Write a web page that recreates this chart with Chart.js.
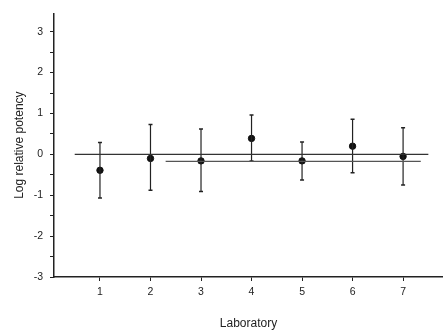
<!DOCTYPE html>
<html>
<head>
<meta charset="utf-8">
<script src="https://cdn.jsdelivr.net/npm/chart.js@4/dist/chart.umd.min.js"></script>
<style>
  html, body { margin: 0; padding: 0; background: #fff; }
  #wrap { width: 443px; height: 333px; }
</style>
</head>
<body>
<div id="wrap"><canvas id="chart"></canvas></div>
<script>
// Datos
const laboratorios = [1, 2, 3, 4, 5, 6, 7];
const potencia = [-0.39, -0.10, -0.16, 0.39, -0.16, 0.20, -0.05];
const limiteSup = [0.29, 0.73, 0.62, 0.96, 0.30, 0.86, 0.65];
const limiteInf = [-1.07, -0.88, -0.91, -0.16, -0.63, -0.45, -0.75];
const lineaCero = [{ x: 0.5, y: 0 }, { x: 7.5, y: 0 }];
const lineaMedia = [{ x: 2.3, y: -0.17 }, { x: 7.35, y: -0.17 }];
const ticksY = [-3, -2, -1, 0, 1, 2, 3];

const negro = '#222';

// Barras de error: una serie por laboratorio
const barras = laboratorios.map((lab, i) => ({
    type: 'line',
    data: [{ x: lab, y: limiteInf[i] }, { x: lab, y: limiteSup[i] }],
    borderColor: negro,
    borderWidth: 1.2,
    pointStyle: 'line',
    pointRadius: 2,
    pointBorderWidth: 1.5,
    pointBorderColor: negro,
    showLine: true,
    fill: false
}));

new Chart(document.getElementById('chart'), {
    type: 'scatter',
    data: {
        datasets: [
            {
                type: 'line',
                data: lineaCero,
                borderColor: '#333',
                borderWidth: 1.2,
                pointRadius: 0,
                showLine: true
            },
            {
                type: 'line',
                data: lineaMedia,
                borderColor: '#555',
                borderWidth: 1.2,
                pointRadius: 0,
                showLine: true
            },
            ...barras,
            {
                data: laboratorios.map((lab, i) => ({ x: lab, y: potencia[i] })),
                backgroundColor: '#111',
                borderColor: '#111',
                pointRadius: 3.2
            }
        ]
    },
    options: {
        responsive: true,
        maintainAspectRatio: false,
        animation: false,
        layout: { autoPadding: false, padding: { left: 0, right: 0, top: 13, bottom: 0 } },
        plugins: { legend: { display: false }, tooltip: { enabled: false } },
        scales: {
            x: {
                type: 'linear',
                min: 0.09,
                max: 7.79,
                afterBuildTicks: s => { s.ticks = laboratorios.map(v => ({ value: v })); },
                afterFit: s => { s.height = 56; },
                grid: { drawOnChartArea: false, tickLength: 4, color: negro, lineWidth: 1 },
                border: { color: negro, width: 1.5 },
                ticks: { color: '#222', font: { family: 'Liberation Sans', size: 10.5 }, padding: 5, maxRotation: 0 },
                title: {
                    display: true,
                    text: 'Laboratory',
                    color: '#222',
                    font: { family: 'Liberation Sans', size: 12 },
                    padding: { top: 10, bottom: 2 }
                }
            },
            y: {
                min: -3,
                max: 3.45,
                afterBuildTicks: s => {
                    const t = [];
                    for (let v = -3; v <= 3; v += 0.5) t.push({ value: v });
                    s.ticks = t;
                },
                afterFit: s => { s.width = 54; },
                grid: { drawOnChartArea: false, tickLength: 4, color: negro, lineWidth: 1 },
                border: { color: negro, width: 1.5 },
                ticks: {
                    color: '#222',
                    font: { family: 'Liberation Sans', size: 10.5 },
                    padding: 7,
                    callback: v => ticksY.includes(v) ? String(v) : ''
                },
                title: {
                    display: true,
                    text: 'Log relative potency',
                    color: '#222',
                    font: { family: 'Liberation Sans', size: 12 },
                    padding: { top: 12, bottom: 0 }
                }
            }
        }
    }
});
</script>
</body>
</html>
